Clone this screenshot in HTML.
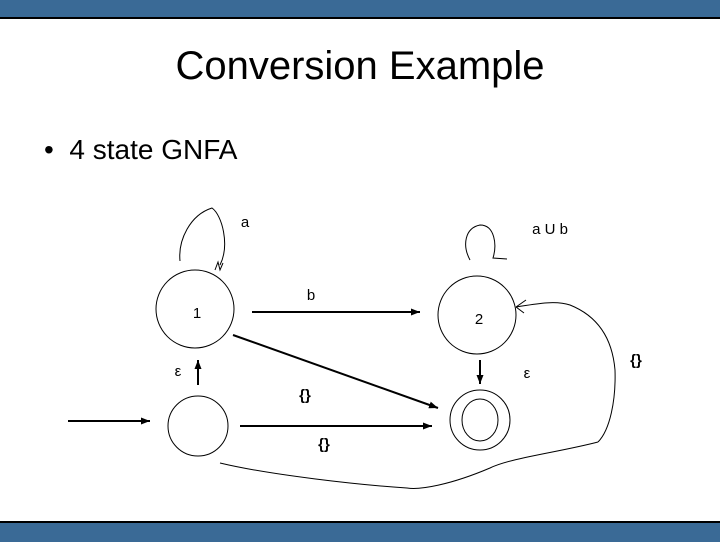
<!DOCTYPE html>
<html><head><style>
body{margin:0;width:720px;height:540px;background:#fff;overflow:hidden;position:relative;font-family:"Liberation Sans",sans-serif}
.bar{position:absolute;left:0;width:720px;background:#3a6a96}
</style></head><body>
<div class="bar" style="top:0;height:17px;border-bottom:2px solid #000"></div>
<div class="bar" style="top:521px;height:19px;border-top:2px solid #000"></div>
<div style="position:absolute;top:44px;left:0;width:720px;text-align:center;font-size:40px">Conversion Example</div>
<div style="position:absolute;top:134px;left:44px;font-size:28px">• &nbsp;4 state GNFA</div>
<svg width="720" height="540" style="position:absolute;left:0;top:0" font-family="Liberation Sans, sans-serif">
<defs><marker id="a" markerWidth="9" markerHeight="7" refX="9" refY="3.5" orient="auto" markerUnits="userSpaceOnUse"><path d="M0,0L9,3.5L0,7z"/></marker></defs>
<g fill="none" stroke="#000" stroke-width="1">
<circle cx="195" cy="309" r="39"/>
<circle cx="477" cy="315" r="39"/>
<circle cx="198" cy="426" r="30"/>
<circle cx="480" cy="420" r="30"/>
<ellipse cx="480" cy="420" rx="18" ry="21"/>
<path d="M180,261 C178,240 190,215 212,208 C222,215 230,245 220,265"/>
<path d="M215,270 l3,-8 l2,8 l3,-7"/>
<path d="M470,260 C462,245 465,228 480,225 C495,225 497,245 493,258 L507,259"/>
<path d="M516,307 C535,304 555,300 570,305 C595,315 612,335 615,370 C616,400 610,430 598,442 M516,307 l10,-7 M516,307 l8,6"/>
<path d="M598,442 C560,452 510,458 490,468 C450,485 420,490 407,488 C360,485 270,475 220,463"/>
</g>
<g stroke="#000" stroke-width="2" marker-end="url(#a)">
<line x1="252" y1="312" x2="420" y2="312"/>
<line x1="233" y1="335" x2="438" y2="408"/>
<line x1="240" y1="426" x2="432" y2="426"/>
<line x1="198" y1="385" x2="198" y2="360"/>
<line x1="480" y1="360" x2="480" y2="384"/>
<line x1="68" y1="421" x2="150" y2="421"/>
</g>
<g font-size="15" text-anchor="middle">
<text x="245" y="227">a</text>
<text x="550" y="234">a U b</text>
<text x="311" y="300">b</text>
<text x="197" y="318">1</text>
<text x="479" y="324">2</text>
<text x="178" y="376">ε</text>
<text x="527" y="378">ε</text>
<text x="305" y="400" font-weight="bold">{}</text>
<text x="324" y="449" font-weight="bold">{}</text>
<text x="636" y="365" font-weight="bold">{}</text>
</g>
</svg>
</body></html>
